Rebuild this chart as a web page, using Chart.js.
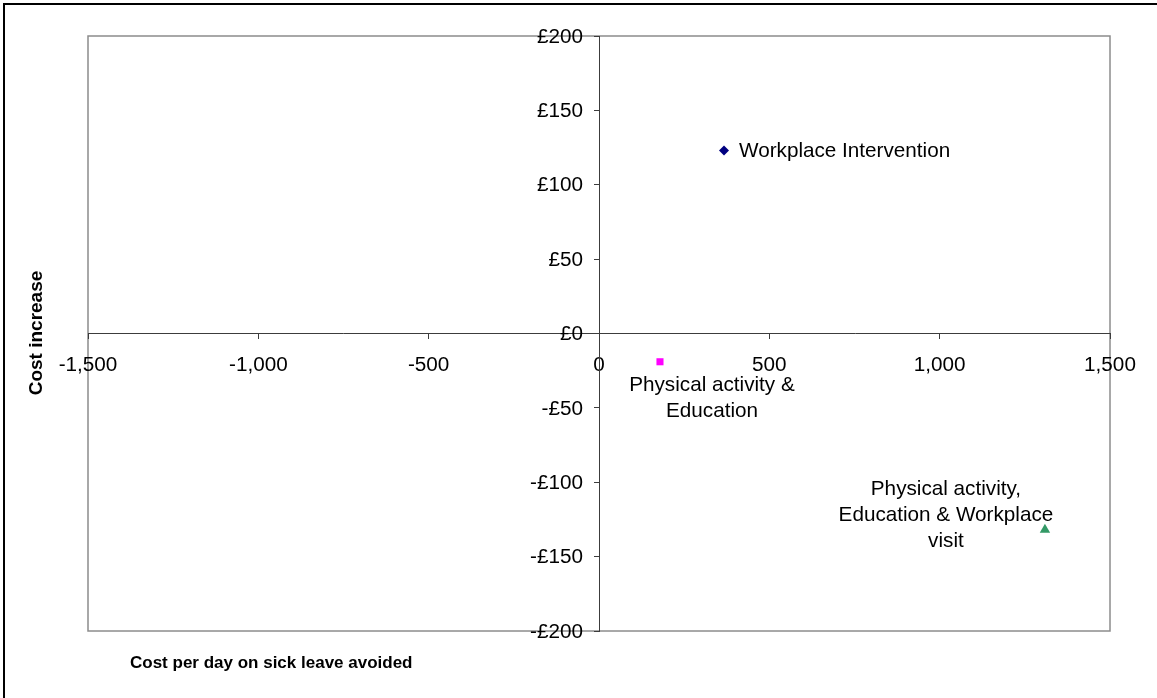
<!DOCTYPE html>
<html>
<head>
<meta charset="utf-8">
<script src="https://cdn.jsdelivr.net/npm/chart.js@4/dist/chart.umd.min.js"></script>
<style>
  html, body { margin: 0; padding: 0; background: #fff; }
  #wrap { position: relative; width: 1157px; height: 698px; }
</style>
</head>
<body>
<div id="wrap"><canvas id="c" width="1157" height="698"></canvas></div>
<script>
// Interventions and their two cost measures
const seriesNames = [
  ["Workplace Intervention"],
  ["Physical activity &", "Education"],
  ["Physical activity,", "Education & Workplace", "visit"]
];
const costPerDayAvoided = [367, 179, 1309];
const costIncrease = [123, -19, -132];

// Axis ranges and titles
const xRange = [-1500, 1500];
const yRange = [-200, 200];
const xStep = 500;
const yStep = 50;
const xTitle = "Cost per day on sick leave avoided";
const yTitle = "Cost increase";

const FONT = "'Liberation Sans', Arial, sans-serif";
const TEXT_SIZE = 20.7;

const markerStyles = [
  { pointStyle: 'rectRot', color: '#000080', radius: 5 },
  { pointStyle: 'rect', color: '#FF00FF', radius: 5 },
  { pointStyle: 'triangle', color: '#339966', radius: 6 }
];

// Where each series' text sits relative to its marker
const labelPlacement = [
  { dx: 15, dy: 1, align: 'left' },
  { dx: 52, dy: 24, align: 'center' },
  { dx: -99, dy: -41, align: 'center' }
];

const datasets = seriesNames.map((name, i) => ({
  label: name.join(' '),
  data: [{ x: costPerDayAvoided[i], y: costIncrease[i] }],
  pointStyle: markerStyles[i].pointStyle,
  backgroundColor: markerStyles[i].color,
  borderColor: markerStyles[i].color,
  borderWidth: 0,
  pointRadius: markerStyles[i].radius,
  pointHoverRadius: markerStyles[i].radius
}));

function fmtThousands(v) {
  const s = Math.abs(v).toString().replace(/\B(?=(\d{3})+(?!\d))/g, ',');
  return (v < 0 ? '-' : '') + s;
}
function fmtPounds(v) {
  return (v < 0 ? '-£' : '£') + Math.abs(v);
}

const framePlugin = {
  id: 'frame',
  beforeDraw(chart) {
    const { ctx, chartArea: a } = chart;
    ctx.save();
    ctx.fillStyle = '#fff';
    ctx.fillRect(0, 0, chart.width, chart.height);
    // outer border
    ctx.strokeStyle = '#000';
    ctx.lineWidth = 2;
    ctx.beginPath();
    ctx.moveTo(4, chart.height + 2);
    ctx.lineTo(4, 4);
    ctx.lineTo(chart.width + 2, 4);
    ctx.stroke();
    // plot area frame
    ctx.strokeStyle = '#8c8c8c';
    ctx.lineWidth = 1.5;
    ctx.strokeRect(a.left, a.top, a.right - a.left, a.bottom - a.top);
    ctx.restore();
  }
};

const textPlugin = {
  id: 'texts',
  afterDatasetsDraw(chart) {
    const { ctx } = chart;
    const xs = chart.scales.x, ys = chart.scales.y;
    ctx.save();
    ctx.fillStyle = '#000';
    ctx.font = TEXT_SIZE + 'px ' + FONT;
    ctx.textBaseline = 'middle';

    // value labels of the cost axis, set off to the left of its tick marks
    const axisX = xs.getPixelForValue(0);
    ctx.textAlign = 'right';
    ys.ticks.forEach(t => {
      ctx.fillText(fmtPounds(t.value), axisX - 16, ys.getPixelForValue(t.value) + 1);
    });

    // series names beside their markers
    seriesNames.forEach((lines, i) => {
      const px = xs.getPixelForValue(costPerDayAvoided[i]);
      const py = ys.getPixelForValue(costIncrease[i]);
      const p = labelPlacement[i];
      ctx.textAlign = p.align;
      lines.forEach((t, k) => {
        ctx.fillText(t, px + p.dx, py + p.dy + k * 26);
      });
    });

    // axis titles
    ctx.font = 'bold 17px ' + FONT;
    ctx.textAlign = 'left';
    ctx.fillText(xTitle, 130, 663);
    ctx.save();
    ctx.font = 'bold 19px ' + FONT;
    ctx.translate(37, 333);
    ctx.rotate(-Math.PI / 2);
    ctx.textAlign = 'center';
    ctx.fillText(yTitle, 0, 0);
    ctx.restore();
    ctx.restore();
  }
};

new Chart(document.getElementById('c'), {
  type: 'scatter',
  data: { datasets },
  options: {
    responsive: false,
    animation: false,
    events: [],
    layout: { padding: { left: 88, top: 36, right: 47, bottom: 67 } },
    plugins: { legend: { display: false }, tooltip: { enabled: false } },
    scales: {
      x: {
        type: 'linear',
        min: xRange[0], max: xRange[1],
        position: { y: 0 },
        ticks: {
          stepSize: xStep,
          color: '#000',
          font: { family: FONT, size: TEXT_SIZE },
          padding: 14,
          maxRotation: 0,
          autoSkip: false,
          callback: v => fmtThousands(v)
        },
        grid: { drawOnChartArea: false, drawTicks: true, tickLength: 5, color: '#3c3c3c', lineWidth: 1 },
        border: { display: true, color: '#3c3c3c', width: 1 }
      },
      y: {
        type: 'linear',
        min: yRange[0], max: yRange[1],
        position: { x: 0 },
        ticks: {
          stepSize: yStep,
          display: false,
          autoSkip: false
        },
        grid: { drawOnChartArea: false, drawTicks: true, tickLength: 5, color: '#3c3c3c', lineWidth: 1 },
        border: { display: true, color: '#3c3c3c', width: 1 }
      }
    }
  },
  plugins: [framePlugin, textPlugin]
});
</script>
</body>
</html>
